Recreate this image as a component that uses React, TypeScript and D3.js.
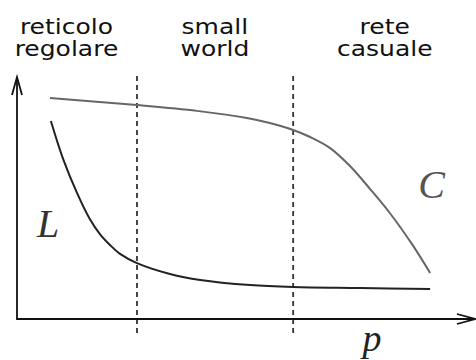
import React from "react";
import * as d3 from "d3";

// curve readings, p and values both normalised to 0..1
const pC = [0.072, 0.262, 0.393, 0.502, 0.552, 0.603, 0.64, 0.683, 0.727, 0.771, 0.814, 0.865, 0.902];
const cValues = [0.913, 0.884, 0.86, 0.831, 0.81, 0.781, 0.752, 0.707, 0.632, 0.537, 0.438, 0.302, 0.19];

const pL = [0.074, 0.1, 0.131, 0.159, 0.181, 0.203, 0.225, 0.262, 0.334, 0.4, 0.509, 0.603, 0.749, 0.902];
const lValues = [0.818, 0.665, 0.521, 0.413, 0.351, 0.306, 0.269, 0.231, 0.186, 0.161, 0.14, 0.132, 0.128, 0.124];

const regionBounds = [0.262, 0.603];
const regionLabels = [
  { p: 0.108, lines: ["reticolo", "regolare"] },
  { p: 0.432, lines: ["small", "world"] },
  { p: 0.803, lines: ["rete", "casuale"] },
];

const width = 476;
const height = 360;

export default function App() {
  const x = d3.scaleLinear().domain([0, 1]).range([17, 475]);
  const y = d3.scaleLinear().domain([0, 1]).range([319, 77]);

  const line = d3
    .line<[number, number]>()
    .x((d) => x(d[0]))
    .y((d) => y(d[1]))
    .curve(d3.curveCatmullRom.alpha(0.5));

  const cData = pC.map((p, i) => [p, cValues[i]] as [number, number]);
  const lData = pL.map((p, i) => [p, lValues[i]] as [number, number]);

  const x0 = x(0);
  const y0 = y(0);
  const xEnd = x(1);
  const yEnd = y(1);

  return (
    <svg
      width={width}
      height={height}
      style={{ position: "absolute", left: 0, top: 0, background: "#fff" }}
    >
      {/* region labels, the source is a bit stretched sideways */}
      {regionLabels.map((r, i) => (
        <g key={i} transform={`translate(${x(r.p)},0) scale(1.22,1)`}>
          <text textAnchor="middle" fontFamily="DejaVu Sans" fontSize={20.5} fill="#111">
            {r.lines.map((t, j) => (
              <tspan key={j} x={0} y={34 + j * 22.5}>
                {t}
              </tspan>
            ))}
          </text>
        </g>
      ))}

      {/* dashed separators */}
      {regionBounds.map((b, i) => (
        <line
          key={i}
          x1={x(b)}
          x2={x(b)}
          y1={yEnd - 1}
          y2={y0 + 15}
          stroke="#333"
          strokeWidth={1.8}
          strokeDasharray="5,4"
        />
      ))}

      {/* axes */}
      <path
        d={`M${x0},${yEnd} L${x0},${y0} L${xEnd},${y0}`}
        fill="none"
        stroke="#111"
        strokeWidth={1.8}
      />
      <path
        d={`M${x0 - 5},${yEnd + 18} L${x0},${yEnd} L${x0 + 5},${yEnd + 18}`}
        fill="none"
        stroke="#111"
        strokeWidth={1.8}
      />
      <path
        d={`M${xEnd - 18},${y0 - 5} L${xEnd},${y0} L${xEnd - 18},${y0 + 5}`}
        fill="none"
        stroke="#111"
        strokeWidth={1.8}
      />

      {/* curves */}
      <path d={line(cData) ?? ""} fill="none" stroke="#666" strokeWidth={2} />
      <path d={line(lData) ?? ""} fill="none" stroke="#222" strokeWidth={2} />

      {/* labels */}
      <text
        x={x(0.068)}
        y={y(0.34)}
        textAnchor="middle"
        fontFamily="Liberation Serif"
        fontStyle="italic"
        fontSize={40}
        fill="#333"
      >
        L
      </text>
      <text
        x={x(0.905)}
        y={y(0.5)}
        textAnchor="middle"
        fontFamily="Liberation Serif"
        fontStyle="italic"
        fontSize={40}
        fill="#555"
      >
        C
      </text>
      <text
        x={x(0.775)}
        y={y0 + 32}
        textAnchor="middle"
        fontFamily="Liberation Serif"
        fontStyle="italic"
        fontSize={38}
        fill="#222"
      >
        p
      </text>
    </svg>
  );
}
